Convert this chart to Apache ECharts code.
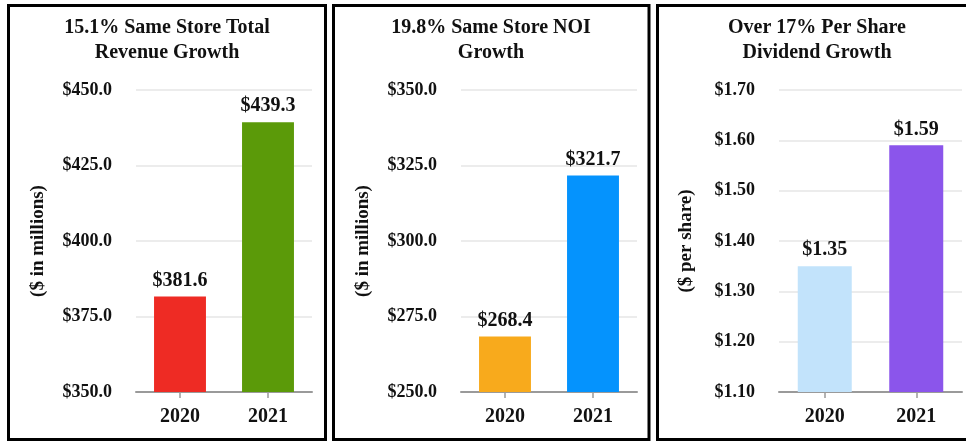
<!DOCTYPE html>
<html>
<head>
<meta charset="utf-8">
<script src="https://cdn.jsdelivr.net/npm/echarts@6/dist/echarts.min.js"></script>
<style>
html,body{margin:0;padding:0;background:#fff;}
#chart{width:966px;height:441px;}
</style>
</head>
<body>
<div id="chart"></div>
<script>
// ---- data ----
var categories = ['2020', '2021'];
var revenueValues = [381.6, 439.3];
var noiValues = [268.4, 321.7];
var dividendValues = [1.35, 1.59];
var titles = ['15.1% Same Store Total\nRevenue Growth', '19.8% Same Store NOI\nGrowth', 'Over 17% Per Share\nDividend Growth'];
var axisNames = ['($ in millions)', '($ in millions)', '($ per share)'];

// ---- styles ----
var FONT = '"Liberation Serif", "Times New Roman", serif';
var barColors = [['#EE2B24', '#5B9A09'], ['#F8AA1C', '#0593FD'], ['#C2E3FB', '#8B55EB']];
var grids = [
  {left: 136, width: 176, top: 90, height: 302},
  {left: 461, width: 176, top: 90, height: 302},
  {left: 779, width: 183, top: 90, height: 302}
];
var titleCenters = [167, 491, 817];
var nameGaps = [88, 88, 83];
var axisRanges = [
  {min: 350, max: 450, interval: 25, dec: 1},
  {min: 250, max: 350, interval: 25, dec: 1},
  {min: 1.1, max: 1.7, interval: 0.1, dec: 2}
];
var seriesData = [revenueValues, noiValues, dividendValues];

var chart = echarts.init(document.getElementById('chart'), null, {renderer: 'canvas'});

var option = {
  animation: false,
  backgroundColor: '#ffffff',
  title: titles.map(function (t, i) {
    return {
      text: t,
      left: titleCenters[i],
      textAlign: 'center',
      top: 15,
      padding: 0,
      textStyle: {fontFamily: FONT, fontWeight: 'bold', fontSize: 20, lineHeight: 25, color: '#111'}
    };
  }),
  grid: grids,
  xAxis: grids.map(function (g, i) {
    return {
      type: 'category',
      gridIndex: i,
      data: categories,
      axisLine: {lineStyle: {color: '#9a9a9a', width: 2}},
      axisTick: {show: true, alignWithLabel: true, length: 6, lineStyle: {color: '#9a9a9a', width: 1.5}},
      axisLabel: {fontFamily: FONT, fontWeight: 'bold', fontSize: 20, color: '#111', margin: 15}
    };
  }),
  yAxis: axisRanges.map(function (r, i) {
    return {
      type: 'value',
      gridIndex: i,
      min: r.min,
      max: r.max,
      interval: r.interval,
      name: axisNames[i],
      nameLocation: 'middle',
      nameGap: nameGaps[i],
      nameRotate: 90,
      nameTextStyle: {fontFamily: FONT, fontWeight: 'bold', fontSize: 19, color: '#111'},
      axisLine: {show: false},
      axisTick: {show: false},
      splitLine: {lineStyle: {color: '#e6e6e6', width: 1.5}},
      axisLabel: {
        fontFamily: FONT, fontWeight: 'bold', fontSize: 18, color: '#111', margin: 24,
        formatter: function (v) { return '$' + v.toFixed(r.dec); }
      }
    };
  }),
  series: seriesData.map(function (vals, i) {
    return {
      type: 'bar',
      xAxisIndex: i,
      yAxisIndex: i,
      barWidth: '59%',
      data: vals.map(function (v, j) {
        return {value: v, itemStyle: {color: barColors[i][j]}};
      }),
      label: {
        show: true,
        position: 'top',
        distance: 6,
        fontFamily: FONT, fontWeight: 'bold', fontSize: 20, color: '#111',
        formatter: function (p) { return '$' + p.value.toFixed(axisRanges[i].dec); }
      }
    };
  }),
  graphic: [
    {type: 'rect', shape: {x: 8.5, y: 5.5, width: 317, height: 434}, style: {fill: 'none', stroke: '#000', lineWidth: 3}, z: 100},
    {type: 'rect', shape: {x: 333.5, y: 5.5, width: 315.5, height: 434}, style: {fill: 'none', stroke: '#000', lineWidth: 3}, z: 100},
    {type: 'rect', shape: {x: 657.5, y: 5.5, width: 400, height: 434}, style: {fill: 'none', stroke: '#000', lineWidth: 3}, z: 100}
  ]
};

chart.setOption(option);
</script>
</body>
</html>
